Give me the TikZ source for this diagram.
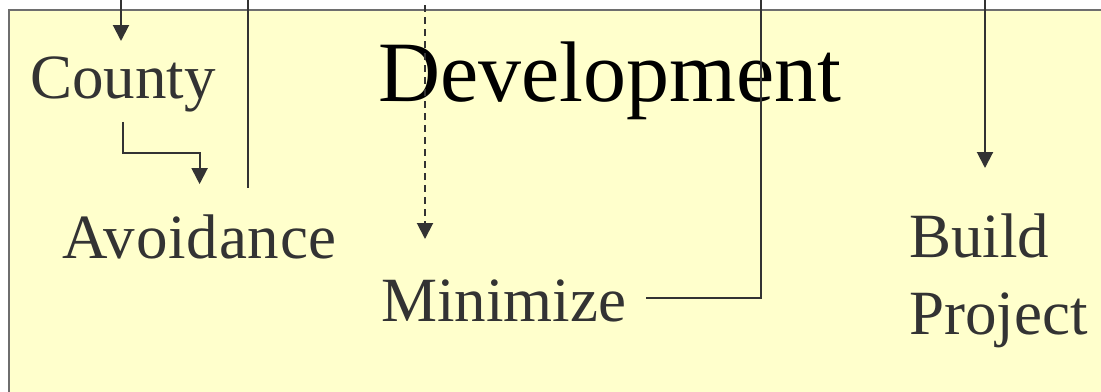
\documentclass[tikz,border=0pt]{standalone}
\usepackage{fontspec}
\setmainfont{Liberation Serif}
\usetikzlibrary{arrows.meta,calc}
\definecolor{paper}{HTML}{FFFFCC}
\definecolor{frame}{HTML}{6E6E6E}
\definecolor{ink}{HTML}{333333}
\tikzset{
  label/.style={inner sep=0pt, anchor=base west, text=ink, font=\fontsize{63bp}{77bp}\selectfont},
  title/.style={inner sep=0pt, anchor=base west, text=black, font=\fontsize{86bp}{100bp}\selectfont},
  wire/.style={draw=ink, line width=2bp},
  arr/.style={wire, -{Triangle[width=16bp,length=16bp]}},
  dashedarr/.style={arr, dash pattern=on 7bp off 5bp}
}
\begin{document}
\begin{tikzpicture}[x=1bp,y=-1bp]
  \useasboundingbox (0,0) rectangle (1101,391);
  \clip (0,0) rectangle (1101,391);
  % sheet
  \draw[fill=paper, draw=frame, line width=1.8bp] (9,10) rectangle (1130,420);

  % labels
  \node[label] (County) at (30,98) {County};
  \node[label] (Avoidance) at (62,258) {\addfontfeature{LetterSpace=1.3}Avoidance};
  \node[label] (Minimize) at (381,321) {Minimize};
  % two-line label: its base anchor sits on the last line
  \node[label, align=left] (Build) at (909,334) {Build\\Project};
  \node[title] (Dev) at (378,101) {Development};

  % free ends of the connectors
  \coordinate (inCounty) at (121,0);
  \coordinate (topA) at (248,0);
  \coordinate (endA) at (248,188);
  \coordinate (topB) at (425,5);
  \coordinate (tipB) at (425,239);
  \coordinate (topC) at (761,0);
  \coordinate (topD) at (985,0);
  \coordinate (tipD) at (985,168);

  % connectors
  \draw[arr] (inCounty) -- ($(inCounty)+(0,41)$);
  \draw[arr] ($(County.south)+(0,10)$) -- ++(0,31) -| ($(Avoidance.north)+(0,-30)$);
  \draw[wire] (topA) -- (endA);
  \draw[dashedarr] (topB) -- (tipB);
  \draw[wire] ($(Minimize.east)+(20,-2)$) -| (topC);
  \draw[arr] (topD) -- (tipD);
\end{tikzpicture}
\end{document}
